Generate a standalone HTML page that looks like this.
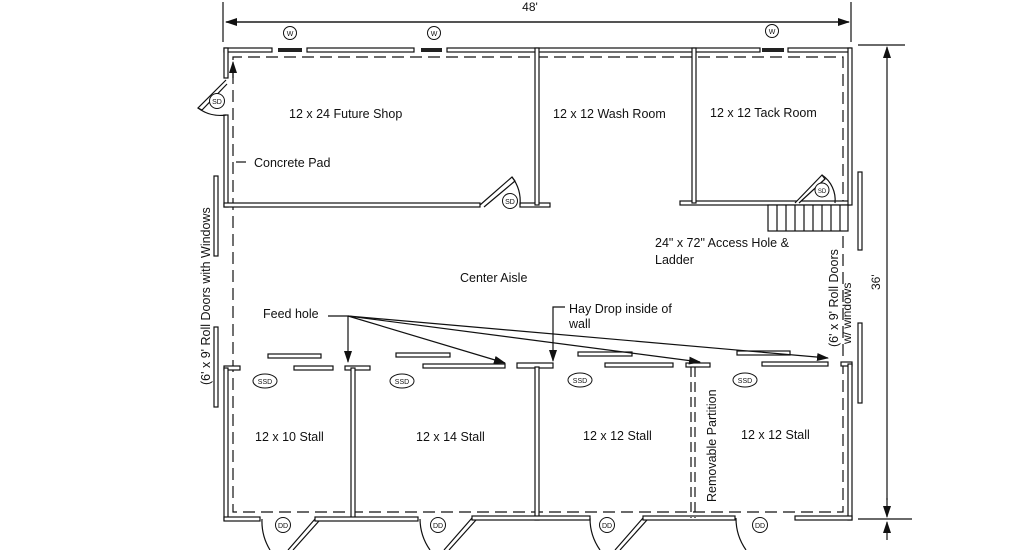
<!DOCTYPE html>
<html><head><style>
html,body{margin:0;padding:0;background:#fff;}
svg{display:block;}
text{font-family:"Liberation Sans",Arial,sans-serif;fill:#111;}
</style></head><body>
<svg width="1020" height="550" viewBox="0 0 1020 550" xmlns="http://www.w3.org/2000/svg">
<defs>
<marker id="ah" markerWidth="12" markerHeight="8" refX="11" refY="4" orient="auto" markerUnits="userSpaceOnUse">
<path d="M0,0 L12,4 L0,8 Z" fill="#111"/>
</marker>
</defs>
<g stroke="#111" fill="none" stroke-width="1.2">
<!-- dimensions -->
<line x1="223" y1="2" x2="223" y2="42"/>
<line x1="851" y1="2" x2="851" y2="42"/>
<line x1="226" y1="22" x2="849" y2="22" marker-end="url(#ah)"/>
<line x1="849" y1="22" x2="226" y2="22" marker-end="url(#ah)"/>
<line x1="858" y1="45" x2="905" y2="45"/>
<line x1="858" y1="519" x2="912" y2="519"/>
<line x1="887" y1="500" x2="887" y2="47" marker-end="url(#ah)"/>
<line x1="887" y1="498" x2="887" y2="517" marker-end="url(#ah)"/>
<line x1="887" y1="540" x2="887" y2="522" marker-end="url(#ah)"/>
<!-- dashed concrete pad -->
<path d="M233,78 L233,57 L843,57 L843,512 L233,512 L233,78" stroke-dasharray="12,6"/>
<line x1="233" y1="78" x2="233" y2="62" marker-end="url(#ah)"/>
<line x1="236" y1="162" x2="246" y2="162"/>
</g>
<!-- walls (double-line) -->
<g stroke="#111" fill="#fff" stroke-width="1.2">
<rect x="224" y="48" width="48" height="4"/>
<rect x="307" y="48" width="107" height="4"/>
<rect x="447" y="48" width="313" height="4"/>
<rect x="788" y="48" width="63" height="4"/>
<rect x="224" y="48" width="4" height="30"/>
<rect x="224" y="115" width="4" height="92"/>
<rect x="224" y="203" width="256" height="4"/>
<rect x="520" y="203" width="30" height="4"/>
<rect x="535" y="48" width="4" height="157"/>
<rect x="680" y="201" width="170" height="4"/>
<rect x="692" y="48" width="4" height="155"/>
<rect x="848" y="48" width="4" height="157"/>
<!-- roll door bars -->
<rect x="214" y="176" width="4" height="80"/>
<rect x="214" y="327" width="4" height="80"/>
<rect x="858" y="172" width="4" height="78"/>
<rect x="858" y="323" width="4" height="80"/>
<!-- stall front -->
<rect x="224" y="366" width="16" height="4"/>
<rect x="268" y="354" width="53" height="4"/>
<rect x="294" y="366" width="39" height="4"/>
<rect x="345" y="366" width="25" height="4"/>
<rect x="396" y="353" width="54" height="4"/>
<rect x="423" y="364" width="82" height="4"/>
<rect x="517" y="363" width="36" height="5"/>
<rect x="578" y="352" width="54" height="4"/>
<rect x="605" y="363" width="68" height="4"/>
<rect x="686" y="363" width="24" height="4"/>
<rect x="737" y="351" width="53" height="4"/>
<rect x="762" y="362" width="66" height="4"/>
<rect x="841" y="362" width="11" height="4"/>
<!-- stall walls -->
<rect x="224" y="368" width="4" height="152"/>
<rect x="351" y="368" width="4" height="152"/>
<rect x="535" y="367" width="4" height="153"/>
<rect x="848" y="364" width="4" height="156"/>
<!-- bottom wall -->
<rect x="224" y="517" width="36" height="4"/>
<rect x="315" y="517" width="103" height="4"/>
<rect x="472" y="516" width="118" height="4"/>
<rect x="643" y="516" width="92" height="4"/>
<rect x="795" y="516" width="57" height="4"/>
<!-- doors -->
<path d="M226,80 L198,108 L202,110 L227,84"/>
<path d="M198,108 A37,37 0 0 0 226,115" fill="none"/>
<path d="M480,205 L512,177 L515,181 L484,207"/>
<path d="M512,177 A40,40 0 0 1 520,205" fill="none"/>
<path d="M795,203 L822,175 L825,179 L799,203"/>
<path d="M822,175 A30,30 0 0 1 835,203" fill="none"/>
<path d="M315,519 L288,550 M319,521 L293,550" fill="none"/>
<path d="M262,519 A55,55 0 0 0 270,550" fill="none"/>
<path d="M472,518 L444,550 M476,520 L449,550" fill="none"/>
<path d="M420,519 A55,55 0 0 0 430,550" fill="none"/>
<path d="M643,518 L615,550 M647,520 L620,550" fill="none"/>
<path d="M590,518 A55,55 0 0 0 600,550" fill="none"/>
<path d="M736,518 A55,55 0 0 0 746,550" fill="none"/>
</g>
<!-- removable partition -->
<g stroke="#111" stroke-width="1.2" fill="none" stroke-dasharray="10,5">
<line x1="691" y1="367" x2="691" y2="518"/>
<line x1="695" y1="367" x2="695" y2="518"/>
</g>
<!-- window glazing -->
<g fill="#222">
<rect x="278" y="48" width="24" height="4"/>
<rect x="421" y="48" width="21" height="4"/>
<rect x="762" y="48" width="22" height="4"/>
</g>
<!-- stairs -->
<g stroke="#111" fill="#fff" stroke-width="1.2">
<rect x="768" y="205" width="80" height="26"/>
<path d="M777,205V231M786,205V231M795,205V231M804,205V231M813,205V231M822,205V231M831,205V231M840,205V231" fill="none"/>
</g>
<!-- arrows -->
<g stroke="#111" stroke-width="1.2" fill="none">
<line x1="328" y1="316" x2="348" y2="316"/>
<line x1="348" y1="316" x2="348" y2="362" marker-end="url(#ah)"/>
<line x1="348" y1="316" x2="505" y2="363" marker-end="url(#ah)"/>
<line x1="348" y1="316" x2="700" y2="362" marker-end="url(#ah)"/>
<line x1="348" y1="316" x2="828" y2="358" marker-end="url(#ah)"/>
<polyline points="565,307 553,307 553,361" marker-end="url(#ah)"/>
</g>
<!-- symbol circles -->
<g stroke="#111" fill="#fff" stroke-width="1">
<circle cx="290" cy="33" r="6.5"/><circle cx="434" cy="33" r="6.5"/><circle cx="772" cy="31" r="6.5"/>
<circle cx="217" cy="101" r="7.5"/><circle cx="510" cy="201" r="7.5"/><circle cx="822" cy="190" r="7"/>
<ellipse cx="265" cy="381" rx="12" ry="7"/><ellipse cx="402" cy="381" rx="12" ry="7"/>
<ellipse cx="580" cy="380" rx="12" ry="7"/><ellipse cx="745" cy="380" rx="12" ry="7"/>
<circle cx="283" cy="525" r="7.5"/><circle cx="438" cy="525" r="7.5"/><circle cx="607" cy="525" r="7.5"/><circle cx="760" cy="525" r="7.5"/>
</g>
<g font-size="7" text-anchor="middle">
<text x="290" y="36">W</text><text x="434" y="36">W</text><text x="772" y="34">W</text>
<text x="217" y="104">SD</text><text x="510" y="204">SD</text><text x="822" y="193" font-size="6">SD</text>
<text x="265" y="384">SSD</text><text x="402" y="384">SSD</text><text x="580" y="383">SSD</text><text x="745" y="383">SSD</text>
<text x="283" y="528">DD</text><text x="438" y="528">DD</text><text x="607" y="528">DD</text><text x="760" y="528">DD</text>
</g>
<!-- labels -->
<g font-size="12.5">
<text x="530" y="11" text-anchor="middle" font-size="12">48'</text>
<text x="289" y="118">12 x 24 Future Shop</text>
<text x="553" y="118">12 x 12 Wash Room</text>
<text x="710" y="117">12 x 12 Tack Room</text>
<text x="254" y="167">Concrete Pad</text>
<text x="460" y="282">Center Aisle</text>
<text x="655" y="247">24" x 72" Access Hole &amp;</text>
<text x="655" y="264">Ladder</text>
<text x="263" y="318">Feed hole</text>
<text x="569" y="313">Hay Drop inside of</text>
<text x="569" y="328">wall</text>
<text x="255" y="441">12 x 10 Stall</text>
<text x="416" y="441">12 x 14 Stall</text>
<text x="583" y="440">12 x 12 Stall</text>
<text x="741" y="439">12 x 12 Stall</text>
<text transform="translate(716,502) rotate(-90)">Removable Partition</text>
<text transform="translate(210,385) rotate(-90)">(6' x 9' Roll Doors with Windows</text>
<text transform="translate(838,347) rotate(-90)">(6' x 9' Roll Doors</text>
<text transform="translate(851,344) rotate(-90)" font-size="12">w/ windows</text>
<text transform="translate(880,290) rotate(-90)" font-size="12">36'</text>
</g>
</svg>
</body></html>
